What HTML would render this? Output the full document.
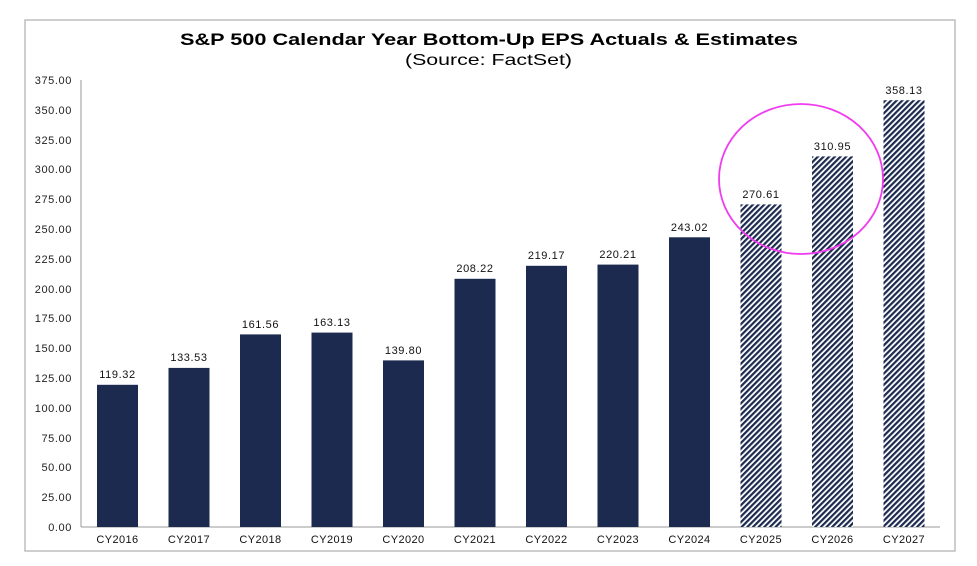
<!DOCTYPE html>
<html><head><meta charset="utf-8"><style>
html,body{margin:0;padding:0;background:#fff;}
svg{display:block;font-family:"Liberation Sans",Arial,sans-serif;}
</style></head><body>
<svg width="977" height="566" viewBox="0 0 977 566" xmlns="http://www.w3.org/2000/svg">
<defs>
<pattern id="h" width="4" height="4" patternUnits="userSpaceOnUse" patternTransform="rotate(-45)">
<rect width="4" height="4" fill="#fff"/>
<rect width="4" height="2.2" fill="#1b2a4e"/>
</pattern>
</defs>
<rect x="25" y="20" width="930" height="531" fill="#fff" stroke="#bdbdbd" stroke-width="1.5"/>
<text x="180" y="45" font-size="17" font-weight="bold" fill="#000" textLength="618" lengthAdjust="spacingAndGlyphs">S&amp;P 500 Calendar Year Bottom-Up EPS Actuals &amp; Estimates</text>
<text x="405" y="65" font-size="16" fill="#000" textLength="167" lengthAdjust="spacingAndGlyphs">(Source: FactSet)</text>
<g font-size="11" fill="#222" text-anchor="end" letter-spacing="0.6">
<text x="72" y="531">0.00</text>
<text x="72" y="501">25.00</text>
<text x="72" y="471">50.00</text>
<text x="72" y="442">75.00</text>
<text x="72" y="412">100.00</text>
<text x="72" y="382">125.00</text>
<text x="72" y="352">150.00</text>
<text x="72" y="322">175.00</text>
<text x="72" y="293">200.00</text>
<text x="72" y="263">225.00</text>
<text x="72" y="233">250.00</text>
<text x="72" y="203">275.00</text>
<text x="72" y="173">300.00</text>
<text x="72" y="144">325.00</text>
<text x="72" y="114">350.00</text>
<text x="72" y="84">375.00</text>
</g>
<line x1="81" y1="80" x2="81" y2="527" stroke="#999"/>
<line x1="81" y1="527" x2="940" y2="527" stroke="#999"/>
<g fill="#1b2a4e">
<rect x="97" y="384.8" width="41" height="142.2"/>
<rect x="168.5" y="367.9" width="41" height="159.1"/>
<rect x="240" y="334.4" width="41" height="192.6"/>
<rect x="311.5" y="332.6" width="41" height="194.4"/>
<rect x="383" y="360.4" width="41" height="166.6"/>
<rect x="454.5" y="278.8" width="41" height="248.2"/>
<rect x="526" y="265.8" width="41" height="261.2"/>
<rect x="597.5" y="264.6" width="41" height="262.4"/>
<rect x="669" y="237.3" width="41" height="289.7"/>
</g>
<rect x="740.5" y="204.4" width="41" height="322.6" fill="url(#h)"/>
<rect x="812" y="156.4" width="41" height="370.6" fill="url(#h)"/>
<rect x="883.5" y="100.2" width="41" height="426.8" fill="url(#h)"/>
<g font-size="11" fill="#111" text-anchor="middle" letter-spacing="0.6">
<text x="117.5" y="378">119.32</text>
<text x="189" y="361">133.53</text>
<text x="260.5" y="328">161.56</text>
<text x="332" y="326">163.13</text>
<text x="403.5" y="354">139.80</text>
<text x="475" y="272">208.22</text>
<text x="546.5" y="259">219.17</text>
<text x="618" y="258">220.21</text>
<text x="689.5" y="231">243.02</text>
<text x="761" y="198">270.61</text>
<text x="832.5" y="150">310.95</text>
<text x="904" y="94">358.13</text>
</g>
<g font-size="11" fill="#111" text-anchor="middle" letter-spacing="0.4">
<text x="117.5" y="543">CY2016</text>
<text x="189" y="543">CY2017</text>
<text x="260.5" y="543">CY2018</text>
<text x="332" y="543">CY2019</text>
<text x="403.5" y="543">CY2020</text>
<text x="475" y="543">CY2021</text>
<text x="546.5" y="543">CY2022</text>
<text x="618" y="543">CY2023</text>
<text x="689.5" y="543">CY2024</text>
<text x="761" y="543">CY2025</text>
<text x="832.5" y="543">CY2026</text>
<text x="904" y="543">CY2027</text>
</g>
<ellipse cx="801" cy="179" rx="82" ry="75" fill="none" stroke="#f03cf0" stroke-width="1.8"/>
</svg>
</body></html>
